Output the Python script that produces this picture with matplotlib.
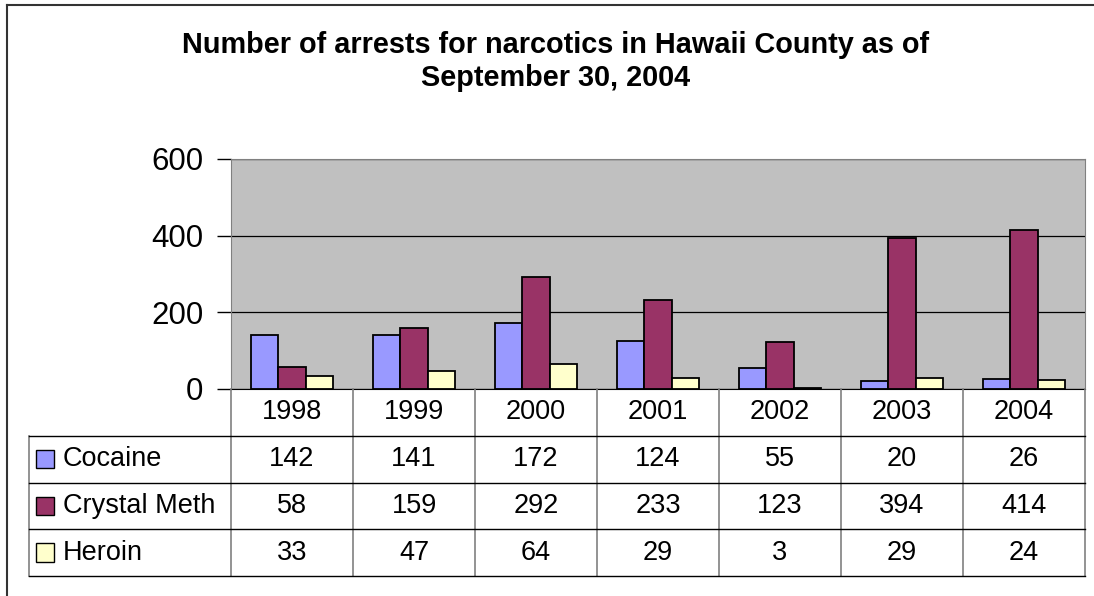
import matplotlib
matplotlib.use('Agg')
from matplotlib import pyplot as plt
from matplotlib.lines import Line2D
from matplotlib.patches import Rectangle
import numpy as np

plt.rcParams['font.family'] = ['Liberation Sans', 'DejaVu Sans']

# data
years = ['1998', '1999', '2000', '2001', '2002', '2003', '2004']
cocaine = [142, 141, 172, 124, 55, 20, 26]
crystal_meth = [58, 159, 292, 233, 123, 394, 414]
heroin = [33, 47, 64, 29, 3, 29, 24]
series_names = ['Cocaine', 'Crystal Meth', 'Heroin']
colors = ['#9999FF', '#993366', '#FFFFCC']
title = 'Number of arrests for narcotics in Hawaii County as of\nSeptember 30, 2004'

W, H = 1094, 596
fig = plt.figure(figsize=(W / 100, H / 100), dpi=100)

def px_box(x0, y0, x1, y1):
    return [x0 / W, 1 - y1 / H, (x1 - x0) / W, (y1 - y0) / H]

# outer chart frame (right/bottom edges run off the picture)
fig.add_artist(Line2D([7 / W, 7 / W], [0, 1 - 5 / H], color='#333333', lw=1.5))
fig.add_artist(Line2D([7 / W, 1], [1 - 5 / H, 1 - 5 / H], color='#333333', lw=1.5))

fig.text(556 / W, 1 - 31 / H, title, ha='center', va='top', fontsize=20.8,
         fontweight='bold', linespacing=1.22)

# bar chart
ax = fig.add_axes(px_box(231, 159, 1085, 389))
ax.set_facecolor('#C0C0C0')
x = np.arange(len(years))
bw = 1 / 4.5
for i, (vals, c) in enumerate(zip([cocaine, crystal_meth, heroin], colors)):
    ax.bar(x + (i - 1) * bw, vals, bw, color=c, edgecolor='black', linewidth=1.3, zorder=3)
ax.set_xlim(-0.5, len(years) - 0.5)
ax.set_ylim(0, 600)
ax.set_yticks([0, 200, 400, 600])
ax.yaxis.grid(True, color='black', lw=0.9, zorder=1)
ax.set_xticks([])
ax.tick_params(axis='y', labelsize=22.5, length=10, width=1, pad=10, direction='out')
for s in ['top', 'right', 'left']:
    ax.spines[s].set_color('#808080')
ax.spines['bottom'].set_color('black')
ax.spines['bottom'].set_zorder(4)

# data table below
leg_w = (231 - 29) / 122
tab = fig.add_axes(px_box(29, 389, 1085, 576))
tab.set_xlim(-0.5 - leg_w, len(years) - 0.5)
tab.set_ylim(4, 0)
tab.axis('off')
rows = [cocaine, crystal_meth, heroin]
gray = '#808080'
fs = 19.5
for j in range(len(years) + 1):
    tab.plot([j - 0.5, j - 0.5], [0, 4], color=gray, lw=1.2, clip_on=False)
tab.plot([-0.5 - leg_w] * 2, [1, 4], color=gray, lw=1.2, clip_on=False)
for r in range(1, 5):
    tab.plot([-0.5 - leg_w, len(years) - 0.5], [r, r], color='black', lw=1, clip_on=False)
for j, yr in enumerate(years):
    tab.text(j, 0.5, yr, ha='center', va='center', fontsize=fs)
for r, (vals, name, c) in enumerate(zip(rows, series_names, colors)):
    yc = r + 1.5
    for j, v in enumerate(vals):
        tab.text(j, yc, str(v), ha='center', va='center', fontsize=fs)
    sq = 18 / 122
    tab.add_patch(Rectangle((-0.5 - leg_w + 7 / 122, yc - 0.2), sq, 0.4,
                            facecolor=c, edgecolor='black', lw=1))
    tab.text(-0.5 - leg_w + 34 / 122, yc, name, ha='left', va='center', fontsize=fs)

plt.savefig('out.png', dpi=100)
plt.close()
